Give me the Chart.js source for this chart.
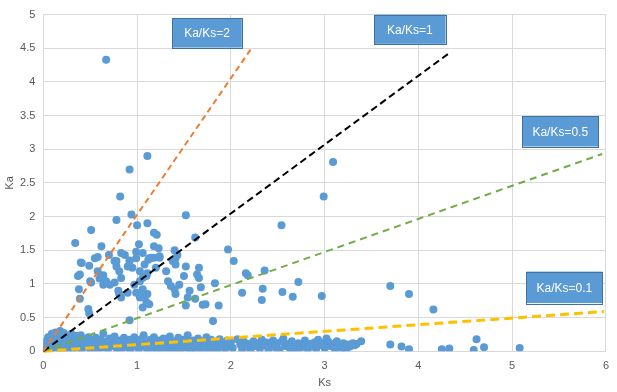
<!DOCTYPE html>
<html>
<head>
<meta charset="utf-8">
<script src="https://cdn.jsdelivr.net/npm/chart.js@4.4.1/dist/chart.umd.min.js"></script>
<style>
html,body{margin:0;padding:0;background:#fff;}
#wrap{width:617px;height:392px;position:relative;}
</style>
</head>
<body>
<div id="wrap"><canvas id="c" width="617" height="392"></canvas></div>
<script>
// ---- data ----
const bandKs = [0.01,0.02,0.03,0.04,0.05,0.06,0.07,0.08,0.09,0.10,0.11,0.12,0.13,0.14,0.15,0.16,0.17,0.18,0.19,0.20,0.21,0.22,0.23,0.24,0.25,0.26,0.27,0.28,0.29,0.30,0.31,0.32,0.33,0.34,0.35,
0.37,0.38,0.40,0.41,0.42,0.44,0.45,0.47,0.48,0.50,0.51,0.53,0.55,0.56,0.58,0.59,0.61,0.63,0.64,0.66,0.68,0.69,0.71,0.73,0.74,0.76,0.78,0.80,0.81,0.83,0.85,0.86,0.88,0.90,0.92,0.93,0.95,0.97,0.99,1.00,1.02,1.04,1.05,1.07,1.09,1.11,1.12,1.14,1.16,1.18,1.19,1.21,1.23,1.25,1.26,1.28,1.30,1.32,1.33,1.35,1.37,1.39,1.40,1.42,1.44,1.46,1.47,1.49,1.51,1.53,1.54,1.56,1.58,1.60,1.61,1.63,1.65,1.67,1.68,1.70,1.72,1.74,1.75,1.77,1.79,1.81,1.83,1.84,1.86,1.88,1.90,1.92,1.94,1.96,1.98,2.00,2.02,2.07,
2.10,2.12,2.14,2.17,2.19,2.21,2.24,2.26,2.28,2.31,2.33,2.35,2.38,2.40,2.42,2.45,2.47,2.49,2.52,2.54,2.56,2.58,2.61,2.63,2.65,2.68,2.70,2.72,2.75,2.77,2.79,2.82,2.84,2.86,2.89,2.91,2.93,2.96,2.98,3.00,3.02,3.04,3.06,3.09,3.11,3.13,3.16,3.18,3.20,3.23,3.25,3.27,3.30,3.32,3.34];
const bandKa = [0.02,0.08,0.15,0.05,0.21,0.12,0.02,0.18,0.26,0.09,0.22,0.04,0.28,0.15,0.07,0.24,0.12,0.30,0.03,0.19,0.10,0.27,0.06,0.16,0.22,0.02,0.12,0.20,0.08,0.26,0.14,0.04,0.19,0.10,0.23,
0.06,0.15,0.24,0.03,0.11,0.18,0.07,0.13,0.21,0.04,0.10,0.16,0.08,0.20,0.02,0.12,0.17,0.06,0.26,0.10,0.15,0.03,0.19,0.08,0.13,0.22,0.05,0.11,0.16,0.02,0.09,0.20,0.13,0.06,0.17,0.03,0.11,0.21,0.07,0.14,0.04,0.18,0.10,0.24,0.06,0.13,0.02,0.17,0.09,0.21,0.05,0.12,0.16,0.03,0.10,0.19,0.07,0.14,0.02,0.22,0.09,0.15,0.05,0.12,0.20,0.03,0.10,0.17,0.06,0.13,0.24,0.02,0.09,0.16,0.05,0.12,0.19,0.03,0.10,0.15,0.07,0.21,0.02,0.12,0.17,0.05,0.10,0.14,0.03,0.18,0.08,0.12,0.04,0.16,0.09,0.13,0.05,0.18,
0.10,0.03,0.14,0.07,0.11,0.02,0.15,0.08,0.12,0.04,0.17,0.09,0.13,0.03,0.10,0.16,0.06,0.12,0.02,0.14,0.19,0.08,0.11,0.04,0.15,0.09,0.02,0.12,0.06,0.10,0.16,0.03,0.11,0.07,0.13,0.04,0.17,0.09,0.12,0.05,0.19,0.14,0.08,0.11,0.03,0.15,0.09,0.05,0.12,0.02,0.10,0.07,0.12,0.09,0.11];

const clusterKs = [0.94,0.78,1.11,1.00,0.51,0.34,0.62,1.02,0.70,0.83,0.99,0.92,1.12,0.55,0.58,0.40,0.78,
1.52,1.18,1.21,1.62,1.18,1.23,1.40,1.97,2.03,1.41,1.13,1.18,1.24,
0.41,0.49,0.37,0.39,0.51,0.50,0.58,0.64,0.60,0.67,0.71,0.64,0.76,0.78,0.81,0.83,0.76,0.87,0.92,0.95,0.90,0.99,1.03,1.08,1.06,1.10,1.03,0.97,0.99,1.03,1.10,1.11,0.90,0.83,0.81,0.80,0.48,0.49,0.39,0.38,0.92,1.06,
1.15,1.24,1.20,1.11,1.06,1.04,1.08,1.06,1.13,1.31,1.38,1.41,1.43,1.52,1.50,1.33,1.36,1.40,1.41,1.45,1.56,1.54,1.52,1.66,1.66,1.68,1.64,1.73,1.83,1.87,1.81,1.62,1.70,
2.16,2.18,2.36,2.34,2.12,2.33,2.55,2.66,2.72,2.97,3.70,3.90,4.16,3.39];
const clusterKa = [2.03,1.95,1.90,1.87,1.80,1.61,1.56,1.59,1.43,1.46,1.48,1.35,1.36,1.38,1.40,1.32,1.34,
2.02,1.76,1.73,1.69,1.56,1.53,1.50,1.51,1.34,1.38,1.38,1.39,1.39,
1.31,1.27,1.12,1.14,1.02,1.04,1.19,1.13,1.08,1.04,0.99,0.99,1.34,1.26,1.19,1.09,1.02,1.43,1.34,1.24,1.26,1.38,1.19,1.29,1.46,1.12,1.04,0.99,0.87,0.80,0.73,0.85,0.87,0.80,0.85,0.90,0.63,0.56,0.78,0.92,0.46,0.92,
1.39,1.41,1.24,1.16,1.09,0.87,0.80,0.65,0.70,1.19,1.34,1.29,1.43,1.26,1.12,1.04,0.97,0.92,0.85,0.99,0.90,0.80,0.68,1.24,1.09,0.95,1.14,0.70,1.01,0.68,0.45,0.78,0.69,
1.16,1.13,1.20,0.93,0.87,0.76,0.88,0.81,1.03,0.82,0.97,0.85,0.62,0.15];

const outlierKs = [0.67,1.11,0.92,0.82,3.09,2.99,2.54,3.82,3.90,4.25,4.33,4.59,4.62,4.70,5.08,3.70];
const outlierKa = [4.33,2.90,2.70,2.30,2.81,2.30,1.87,0.07,0.03,0.03,0.04,0.02,0.18,0.06,0.05,0.10];

const ratioNames = ['Ka/Ks=2','Ka/Ks=1','Ka/Ks=0.5','Ka/Ks=0.1'];
const ratioEndKs = [2.22,4.34,5.96,5.98];
const ratioEndKa = [4.50,4.44,2.93,0.59];

const xTicks = [0,1,2,3,4,5,6];
const yTicks = [0,0.5,1,1.5,2,2.5,3,3.5,4,4.5,5];

// ---- styling (not data) ----
const lineColors = ['#ED7D31','#000000','#70AD47','#FFC000'];
const lineWidths = [2,2,2,3];
const lineDashes = [[6,4],[7,4],[7,5],[9,5]];
const boxes = [
  {i:0, x0:1.375, y0:4.95, x1:2.117, y1:4.51},
  {i:1, x0:3.527, y0:5.00, x1:4.29, y1:4.566},
  {i:2, x0:5.106, y0:3.494, x1:5.92, y1:3.041},
  {i:3, x0:5.152, y0:1.184, x1:5.962, y1:0.716}
];

const pts = [];
[[bandKs,bandKa],[clusterKs,clusterKa],[outlierKs,outlierKa]].forEach(([xs,ys])=>{
  xs.forEach((x,k)=>pts.push({x:x,y:ys[k]}));
});

const datasets = ratioNames.map((n,k)=>({
  type:'line', label:n,
  data:[{x:0,y:0},{x:ratioEndKs[k],y:ratioEndKa[k]}],
  borderColor:lineColors[k], borderWidth:lineWidths[k], borderDash:lineDashes[k],
  pointRadius:0, fill:false, order:0, clip:false
}));
datasets.push({type:'scatter', label:'Ka', data:pts, backgroundColor:'#5B9BD5', borderColor:'#5B9BD5',
  pointRadius:4, pointBorderWidth:0, order:1});

const boxPlugin = {
  id:'boxes',
  afterDraw(chart){
    const ctx = chart.ctx, xs = chart.scales.x, ys = chart.scales.y;
    ctx.save();
    boxes.forEach(b=>{
      const l = xs.getPixelForValue(b.x0), r = xs.getPixelForValue(b.x1);
      const t = ys.getPixelForValue(b.y0), btm = ys.getPixelForValue(b.y1);
      ctx.fillStyle = '#5B9BD5';
      ctx.fillRect(l,t,r-l,btm-t);
      ctx.strokeStyle = '#41719C'; ctx.lineWidth = 1;
      ctx.strokeRect(Math.round(l)+0.5,Math.round(t)+0.5,Math.round(r-l),Math.round(btm-t));
      ctx.fillStyle = '#ffffff';
      ctx.font = '12px "Liberation Sans", Arial, sans-serif';
      ctx.textAlign = 'center'; ctx.textBaseline = 'middle';
      ctx.fillText(ratioNames[b.i], (l+r)/2, (t+btm)/2+1);
    });
    ctx.restore();
  }
};

const tickFont = {size:11, family:'"Liberation Sans", Arial, sans-serif'};
new Chart(document.getElementById('c'), {
  type:'scatter',
  data:{datasets},
  options:{
    responsive:false, animation:false, devicePixelRatio:1,
    layout:{padding:{left:0,right:7.7,top:9.3,bottom:0}},
    plugins:{legend:{display:false}, tooltip:{enabled:false}},
    scales:{
      x:{type:'linear', min:0, max:6,
        afterBuildTicks(s){ s.ticks = xTicks.map(v=>({value:v})); },
        afterFit(s){ s.height = 40.7; },
        grid:{color:'#D9D9D9', drawTicks:false},
        border:{color:'#D9D9D9'},
        ticks:{color:'#595959', padding:8, font:tickFont, callback:v=>String(v)},
        title:{display:true, text:'Ks', color:'#595959', padding:{top:0,bottom:2}, font:tickFont}
      },
      y:{type:'linear', min:0, max:5,
        afterBuildTicks(s){ s.ticks = yTicks.map(v=>({value:v})); },
        afterFit(s){ s.width = 43.3; },
        grid:{color:'#D9D9D9', drawTicks:false},
        border:{color:'#D9D9D9'},
        ticks:{color:'#595959', padding:8, font:tickFont, callback:v=>String(v)},
        title:{display:true, text:'Ka', color:'#595959', padding:{top:3,bottom:0}, font:tickFont}
      }
    }
  },
  plugins:[boxPlugin]
});
</script>
</body>
</html>
